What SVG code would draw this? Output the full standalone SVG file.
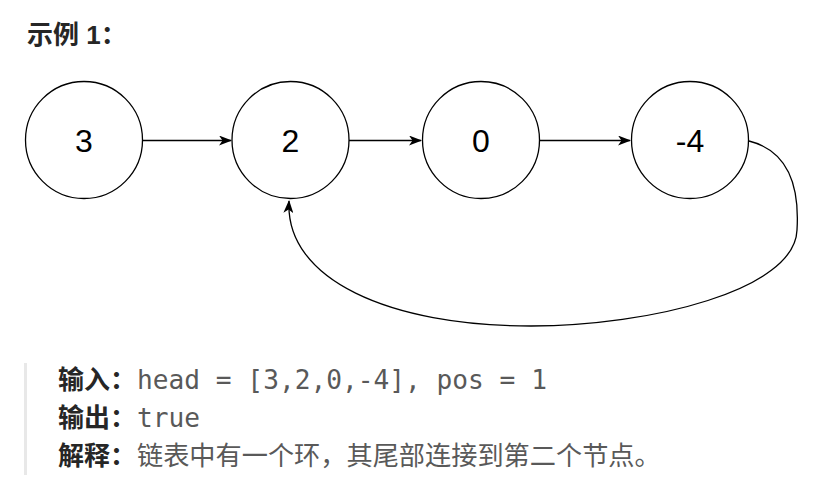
<svg xmlns="http://www.w3.org/2000/svg" width="833" height="493" viewBox="0 0 833 493">
<style>
.node circle{fill:#fff;stroke:#000;stroke-width:1.3}
.node text{font-family:"Liberation Sans",Arial,sans-serif;font-size:32px;fill:#000;text-anchor:middle}
.edge{fill:none;stroke:#000;stroke-width:1.3}
.title{font-family:"Liberation Sans","Noto Sans CJK SC",sans-serif;font-size:26px;font-weight:bold;fill:#262626}
.lbl{font-family:"Noto Sans CJK SC",sans-serif;font-size:26px;font-weight:bold;fill:#262626}
.mono{font-family:"DejaVu Sans Mono",monospace;font-size:26.2px;fill:#595959}
.cjk{font-family:"Noto Sans CJK SC",sans-serif;font-size:26.2px;fill:#595959}
</style>
<defs>
<marker id="arr" viewBox="0 0 13 10" refX="12" refY="5" markerWidth="13" markerHeight="10" markerUnits="userSpaceOnUse" orient="auto">
<path d="M0,0 L13,5 L0,10 L3.5,5 Z" fill="#000"/>
</marker>
</defs>
<rect width="833" height="493" fill="#fff"/>
<text class="title" x="27" y="44">示例 1：</text>
<g id="connectors">
<path class="edge" d="M143,140.5 L231,140.5" marker-end="url(#arr)"/>
<path class="edge" d="M349,140.5 L421,140.5" marker-end="url(#arr)"/>
<path class="edge" d="M540,140.5 L630,140.5" marker-end="url(#arr)"/>
<path class="edge" d="M749,141 C785,150 800,180 797,230 C795,290 650,326 531,326 C390,326 285,280 289,201" marker-end="url(#arr)"/>
</g>
<g id="node-3" class="node"><circle cx="84" cy="140" r="58.5"/><text x="84" y="151.5">3</text></g>
<g id="node-2" class="node"><circle cx="290.5" cy="140" r="58.5"/><text x="290.5" y="151.5">2</text></g>
<g id="node-0" class="node"><circle cx="481" cy="140" r="58.5"/><text x="481" y="151.5">0</text></g>
<g id="node-4" class="node"><circle cx="690" cy="140" r="58.5"/><text x="690" y="151.5">-4</text></g>
<rect x="24" y="363" width="3" height="112" fill="#e8e8e8"/>
<text class="lbl" x="58" y="389">输入：</text>
<text class="mono" x="137" y="389">head = [3,2,0,-4], pos = 1</text>
<text class="lbl" x="58" y="427">输出：</text>
<text class="mono" x="137" y="427">true</text>
<text class="lbl" x="58" y="465">解释：</text>
<text class="cjk" x="137" y="465">链表中有一个环，其尾部连接到第二个节点。</text>
</svg>
